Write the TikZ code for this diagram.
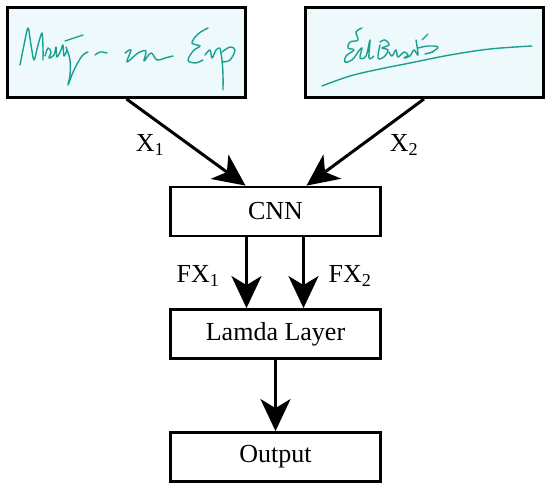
\documentclass[tikz,border=0pt]{standalone}
\usepackage{fontspec}
\setmainfont{Liberation Serif}
\usepackage{xcolor}
\usetikzlibrary{arrows.meta}
\definecolor{sigfill}{RGB}{238,249,252}
\definecolor{sigink}{RGB}{25,160,145}

\begin{document}
\begin{tikzpicture}[
  x=1pt, y=-1pt,
  sigbox/.style={rectangle, draw=black, fill=sigfill, line width=3pt,
                 minimum width=238pt, minimum height=90pt, inner sep=0pt},
  layer/.style={rectangle, draw=black, fill=white, line width=2.8pt,
                minimum width=210pt, minimum height=49pt, inner sep=0pt,
                font=\fontsize{26}{30}\selectfont},
  arr/.style={-{Stealth[length=32pt, width=30pt, inset=9pt]}, line width=3pt},
  lbl/.style={font=\fontsize{26}{30}\selectfont, inner sep=1pt},
  ink/.style={draw=sigink, line width=1.4pt, line cap=round, line join=round}
]
\useasboundingbox (0,0) rectangle (550,488);

\node[sigbox] (sigA) at (126.5, 52.5) {};
\node[sigbox] (sigB) at (424, 52.5) {};

% handwritten signatures
\draw[ink] plot[smooth, tension=0.5] coordinates {(20,65) (24,45) (28,28) (31,45) (34,60) (38,45) (42,33) (43,48) (43,60)};
\draw[ink] plot[smooth, tension=0.6] coordinates {(45,56) (48,48) (51,52) (49,58) (54,55) (56,47) (57,57) (61,50) (63,45) (64,56) (67,50)};
\draw[ink] plot[smooth, tension=0.6] coordinates {(66,47) (70,60) (70,75) (68,85) (74,70) (82,56) (88,52)};
\draw[ink] (65,41) -- (83,35);
\draw[ink] plot[smooth, tension=0.6] coordinates {(95,55) (100,52) (107,53)};
\draw[ink] plot[smooth, tension=0.6] coordinates {(125,53) (131,50) (127,62) (138,53) (146,51) (144,61) (151,53) (157,60) (165,58) (173,56)};
\draw[ink] plot[smooth, tension=0.6] coordinates {(208,28) (198,34) (192,43) (200,46) (194,50) (188,60) (195,63) (203,60)};
\draw[ink] plot[smooth, tension=0.6] coordinates {(205,55) (210,50) (212,58) (216,50) (219,48)};
\draw[ink] plot[smooth, tension=0.6] coordinates {(220,48) (222,60) (223,75) (223,90)};
\draw[ink] plot[smooth, tension=0.6] coordinates {(222,52) (230,47) (235,50) (230,60) (222,62)};

\draw[ink] plot[smooth, tension=0.6] coordinates {(322,86) (350,76) (380,69) (410,63) (450,55) (490,49) (532,46)};
\draw[ink] plot[smooth, tension=0.6] coordinates {(362,28) (356,32) (358,40) (350,42) (348,48) (354,50) (346,56) (345,62) (352,60) (358,52)};
\draw[ink] plot[smooth, tension=0.6] coordinates {(358,52) (362,48) (360,58) (366,56) (370,40) (369,58) (374,56)};
\draw[ink] plot[smooth, tension=0.6] coordinates {(380,45) (378,58) (384,57) (388,50) (382,48) (389,45) (385,40) (380,42)};
\draw[ink] plot[smooth, tension=0.6] coordinates {(389,52) (392,56) (396,50) (398,57) (404,52) (408,55) (404,58) (410,56) (414,50) (418,55) (416,40)};
\draw[ink] plot[smooth, tension=0.6] coordinates {(418,48) (428,46) (438,47) (432,52) (425,54) (433,52)};
\draw[ink] (422,40) -- (428,34);

\node[layer] (cnn)   at (275.5, 211.5) {CNN};
\node[layer] (lamda) at (275.5, 334)   {Lamda Layer};
\node[layer] (out)   at (275.5, 457)   {Output};

\draw[arr] (sigA.south) -- ([xshift=-30pt]cnn.north);
\draw[arr] (sigB.south) -- ([xshift=31pt]cnn.north);
\draw[arr] ([xshift=-29pt]cnn.south) -- ([xshift=-29pt]lamda.north);
\draw[arr] ([xshift=28pt]cnn.south) -- ([xshift=28pt]lamda.north);
\draw[arr] (lamda.south) -- (out.north);

\node[lbl] (x1)  at (150, 145) {X\textsubscript{1}};
\node[lbl] (x2)  at (404, 145) {X\textsubscript{2}};
\node[lbl] (fx1) at (198, 276) {FX\textsubscript{1}};
\node[lbl] (fx2) at (350, 276) {FX\textsubscript{2}};

\end{tikzpicture}
\end{document}
